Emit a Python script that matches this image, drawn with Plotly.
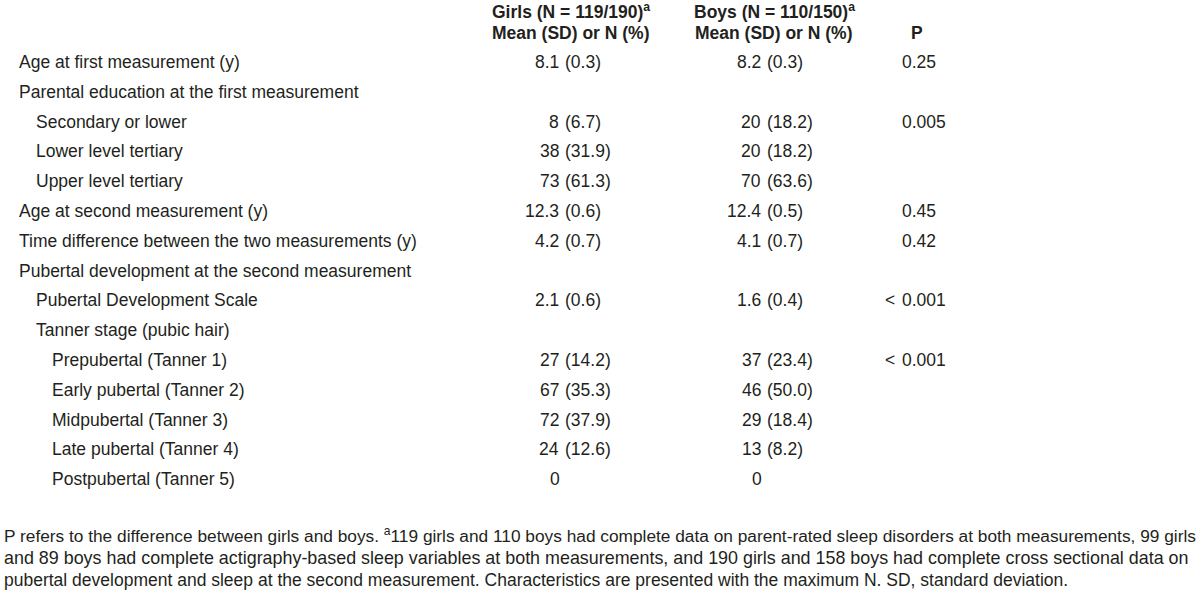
import plotly.graph_objects as go

FONT = "Liberation Sans, Arial, sans-serif"
COLOR = "#231f20"

labels = [
    "Age at first measurement (y)",
    "Parental education at the first measurement",
    "Secondary or lower",
    "Lower level tertiary",
    "Upper level tertiary",
    "Age at second measurement (y)",
    "Time difference between the two measurements (y)",
    "Pubertal development at the second measurement",
    "Pubertal Development Scale",
    "Tanner stage (pubic hair)",
    "Prepubertal (Tanner 1)",
    "Early pubertal (Tanner 2)",
    "Midpubertal (Tanner 3)",
    "Late pubertal (Tanner 4)",
    "Postpubertal (Tanner 5)",
]
indent_levels = [0, 0, 1, 1, 1, 0, 0, 0, 1, 1, 2, 2, 2, 2, 2]
girls = ["8.1 (0.3)", "", "8 (6.7)", "38 (31.9)", "73 (61.3)", "12.3 (0.6)", "4.2 (0.7)",
         "", "2.1 (0.6)", "", "27 (14.2)", "67 (35.3)", "72 (37.9)", "24 (12.6)", "0"]
boys = ["8.2 (0.3)", "", "20 (18.2)", "20 (18.2)", "70 (63.6)", "12.4 (0.5)", "4.1 (0.7)",
        "", "1.6 (0.4)", "", "37 (23.4)", "46 (50.0)", "29 (18.4)", "13 (8.2)", "0"]
p_values = ["0.25", "", "0.005", "", "", "0.45", "0.42",
            "", "< 0.001", "", "< 0.001", "", "", "", ""]

header_line1 = ["Girls (N = 119/190)<sup>a</sup>", "Boys (N = 110/150)<sup>a</sup>", ""]
header_line2 = ["Mean (SD) or N (%)", "Mean (SD) or N (%)", "P"]

footnote_lines = [
    "P refers to the difference between girls and boys. <sup>a</sup>119 girls and 110 boys had complete data on parent-rated sleep disorders at both measurements, 99 girls",
    "and 89 boys had complete actigraphy-based sleep variables at both measurements, and 190 girls and 158 boys had complete cross sectional data on",
    "pubertal development and sleep at the second measurement. Characteristics are presented with the maximum N. SD, standard deviation.",
]
footnote_sizes = [17.3, 17.9, 17.5]

W, H = 1200, 601
ROW_PX = 29.8
FIRST_ROW_PX = 62
FS = 17.5

header_x = [571, 774, 917]
sep_x = [563, 765]      # position of the "(" in girls / boys columns
p_x = 900               # left edge of p-value digits

r_top = -FIRST_ROW_PX / ROW_PX
r_bot = r_top + H / ROW_PX


def font(size=FS):
    return dict(family=FONT, size=size, color=COLOR)


ann = []
# row labels
for i, (lab, lv) in enumerate(zip(labels, indent_levels)):
    ann.append(dict(x=17 + 16.5 * lv, y=i, text=lab, xanchor="left", yanchor="middle"))

# girls / boys columns, aligned on the opening parenthesis
for sx, vals in zip(sep_x, [girls, boys]):
    for i, v in enumerate(vals):
        if not v:
            continue
        if " (" in v:
            num, rest = v.split(" (", 1)
            ann.append(dict(x=sx - 2, y=i, text=num, xanchor="right", yanchor="middle"))
            ann.append(dict(x=sx, y=i, text="(" + rest, xanchor="left", yanchor="middle"))
        else:
            ann.append(dict(x=sx - 1, y=i, text=v, xanchor="right", yanchor="middle"))

# p-values
for i, v in enumerate(p_values):
    if not v:
        continue
    if v.startswith("<"):
        ann.append(dict(x=p_x - 3, y=i, text="<", xanchor="right", yanchor="middle"))
        v = v[1:].strip()
    ann.append(dict(x=p_x, y=i, text=v, xanchor="left", yanchor="middle"))

for a in ann:
    a.update(xref="x", yref="y", showarrow=False, font=font())

# headers (bold, two lines)
for hx, h1, h2 in zip(header_x, header_line1, header_line2):
    if h1:
        ann.append(dict(x=hx / W, y=1 - 11 / H, xref="paper", yref="paper", text="<b>" + h1 + "</b>",
                        showarrow=False, xanchor="center", yanchor="middle", font=font()))
    ann.append(dict(x=hx / W, y=1 - 33 / H, xref="paper", yref="paper", text="<b>" + h2 + "</b>",
                    showarrow=False, xanchor="center", yanchor="middle", font=font()))

# footnote
for i, (line, fs) in enumerate(zip(footnote_lines, footnote_sizes)):
    ann.append(dict(x=2 / W, y=1 - (535 + 22.5 * i) / H, xref="paper", yref="paper",
                    text=line, showarrow=False, xanchor="left", yanchor="middle", font=font(fs)))

fig = go.Figure()
fig.add_trace(go.Scatter(x=[0], y=[0], mode="markers", marker=dict(opacity=0),
                         hoverinfo="skip", showlegend=False))
fig.update_layout(
    width=W, height=H, margin=dict(l=0, r=0, t=0, b=0),
    paper_bgcolor="white", plot_bgcolor="white",
    xaxis=dict(range=[0, W], visible=False, fixedrange=True),
    yaxis=dict(range=[r_bot, r_top], visible=False, fixedrange=True),
    annotations=ann,
)
fig.write_html(
    "out.html",
    config={"displayModeBar": False},
    post_script="document.body.style.margin='0';document.body.style.padding='0';"
                "document.body.style.overflow='hidden';",
)
